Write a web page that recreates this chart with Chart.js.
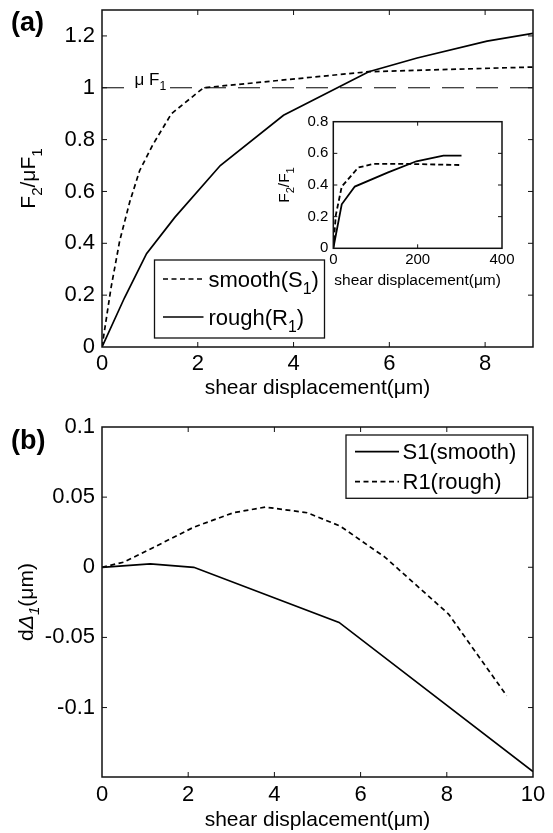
<!DOCTYPE html>
<html><head><meta charset="utf-8">
<script src="https://cdn.jsdelivr.net/npm/chart.js@4/dist/chart.umd.min.js"></script>
<style>
html,body{margin:0;padding:0;background:#fff;width:553px;height:833px;overflow:hidden}
canvas{position:absolute}
</style></head><body>
<canvas id="ca" width="553" height="415" style="left:0;top:0"></canvas>
<canvas id="cin" width="293" height="200" style="left:260px;top:100px"></canvas>
<canvas id="cb" width="553" height="418" style="left:0;top:415px"></canvas>
<script>
// ---------- Panel (a) data ----------
const smoothA_x = [0, 0.19, 0.37, 0.58, 0.785, 1.06, 1.45, 2.12, 5.57, 9];
const smoothA_y = [0, 0.23, 0.41, 0.56, 0.68, 0.78, 0.90, 1.00, 1.062, 1.08];
const roughA_x = [0, 0.47, 0.93, 1.52, 2.47, 3.79, 5.57, 6.58, 8.04, 9];
const roughA_y = [0, 0.19, 0.36, 0.50, 0.70, 0.894, 1.062, 1.115, 1.18, 1.21];
const muF1_x = [0, 9];
const muF1_y = [1, 1];
const xTicksA = [0, 2, 4, 6, 8];
const yTicksA = [0, 0.2, 0.4, 0.6, 0.8, 1, 1.2];
const legendA = ['smooth(S_1)', 'rough(R_1)'];

// ---------- Inset data ----------
const smoothIn_x = [0, 6, 20, 59, 95, 182, 304];
const smoothIn_y = [0, 0.21, 0.39, 0.51, 0.533, 0.533, 0.526];
const roughIn_x = [0, 20, 51, 130, 197, 261, 304];
const roughIn_y = [0, 0.278, 0.39, 0.48, 0.55, 0.585, 0.585];
const xTicksIn = [0, 200, 400];
const yTicksIn = [0, 0.2, 0.4, 0.6, 0.8];

// ---------- Panel (b) data ----------
const s1B_x = [0, 1.12, 2.13, 5.5, 10];
const s1B_y = [0, 0.0024, 0, -0.0393, -0.1457];
const r1B_x = [0, 0.5, 1.16, 2.13, 3.05, 3.79, 4.76, 5.53, 6.57, 8.04, 9.39];
const r1B_y = [0, 0.0036, 0.0136, 0.0286, 0.0389, 0.0429, 0.0389, 0.0293, 0.0071, -0.0333, -0.0916];
const xTicksB = [0, 2, 4, 6, 8, 10];
const yTicksB = [-0.1, -0.05, 0, 0.05, 0.1];
const legendB = ['S1(smooth)', 'R1(rough)'];

const FONT = '"Liberation Sans", Arial, Helvetica, sans-serif';
Chart.defaults.font.family = FONT;
Chart.defaults.color = '#000';

const pts = (xs, ys) => xs.map((x, i) => ({x, y: ys[i]}));
const fmt = v => String(parseFloat(Number(v).toFixed(3)));

function parseRich(str) {
  const out = [];
  const re = /_(\w)/g; let last = 0, m;
  while ((m = re.exec(str))) {
    if (m.index > last) out.push({t: str.slice(last, m.index)});
    out.push({t: m[1], sub: true});
    last = re.lastIndex;
  }
  if (last < str.length) out.push({t: str.slice(last)});
  return out;
}
function segFont(s, size) {
  return (s.it ? 'italic ' : '') + (s.b ? 'bold ' : '') + (s.sub ? size * 0.72 : size) + 'px ' + FONT;
}
function richWidth(ctx, segs, size) {
  let w = 0;
  for (const s of segs) { ctx.font = segFont(s, size); w += ctx.measureText(s.t).width; }
  return w;
}
function drawRich(ctx, segs, x, y, size, align) {
  const w = richWidth(ctx, segs, size);
  let cx = align === 'center' ? x - w / 2 : x;
  ctx.textAlign = 'left'; ctx.textBaseline = 'alphabetic';
  for (const s of segs) {
    ctx.font = segFont(s, size);
    ctx.fillText(s.t, cx, y + (s.sub ? size * 0.33 : 0));
    cx += ctx.measureText(s.t).width;
  }
  return w;
}

const framePlugin = {
  id: 'frame',
  beforeDraw(chart, args, o) {
    if (o && o.fill) {
      const a = chart.chartArea, ctx = chart.ctx;
      ctx.save(); ctx.fillStyle = o.fill; ctx.fillRect(a.left, a.top, a.width, a.height); ctx.restore();
    }
  },
  afterDraw(chart, args, o) {
    const {ctx, chartArea: a, scales: {x, y}} = chart;
    const L = o.tick || 5;
    ctx.save();
    ctx.strokeStyle = '#111'; ctx.lineWidth = 1;
    ctx.beginPath();
    x.ticks.forEach(t => {
      const p = x.getPixelForValue(t.value);
      if (p <= a.left + 1 || p >= a.right - 1) return;
      ctx.moveTo(p, a.bottom); ctx.lineTo(p, a.bottom - L);
      ctx.moveTo(p, a.top); ctx.lineTo(p, a.top + L);
    });
    y.ticks.forEach(t => {
      const p = y.getPixelForValue(t.value);
      if (p <= a.top + 1 || p >= a.bottom - 1) return;
      ctx.moveTo(a.left, p); ctx.lineTo(a.left + L, p);
      ctx.moveTo(a.right, p); ctx.lineTo(a.right - L, p);
    });
    ctx.stroke();
    ctx.lineWidth = o.lw || 1.5;
    ctx.strokeRect(a.left, a.top, a.width, a.height);
    if (o.ytitle) {
      ctx.fillStyle = '#000';
      ctx.save();
      ctx.translate(o.ytitle.bx, (a.top + a.bottom) / 2);
      ctx.rotate(-Math.PI / 2);
      drawRich(ctx, o.ytitle.segs, 0, 0, o.ytitle.size, 'center');
      ctx.restore();
    }
    if (o.tag) {
      ctx.fillStyle = '#000';
      ctx.font = 'bold ' + o.tag.size + 'px ' + FONT;
      ctx.textAlign = 'left'; ctx.textBaseline = 'alphabetic';
      ctx.fillText(o.tag.t, o.tag.x, o.tag.y);
    }
    if (o.legend) {
      const g = o.legend;
      const lx = a.left + g.dx, ly = a.top + g.dy;
      ctx.fillStyle = '#fff'; ctx.fillRect(lx, ly, g.w, g.h);
      ctx.strokeStyle = '#111'; ctx.lineWidth = 1.3;
      ctx.strokeRect(lx, ly, g.w, g.h);
      g.items.forEach((it, i) => {
        const ds = chart.data.datasets[it.ds];
        const yy = ly + g.rows[i];
        ctx.save();
        ctx.strokeStyle = '#000'; ctx.lineWidth = ds.borderWidth;
        ctx.setLineDash(ds.borderDash || []);
        ctx.beginPath(); ctx.moveTo(lx + g.s0, yy); ctx.lineTo(lx + g.s1, yy); ctx.stroke();
        ctx.restore();
        ctx.fillStyle = '#000';
        drawRich(ctx, parseRich(it.label), lx + g.tx, yy + 7.7, g.size, 'left');
      });
    }
    ctx.restore();
  }
};

function xScale(min, max, ticksArr, tickSize, tickPad, height, title, titleSize, titlePadB) {
  return {
    type: 'linear', position: 'bottom', min, max,
    afterBuildTicks: s => { s.ticks = ticksArr.map(v => ({value: v})); },
    afterFit: s => { s.height = height; s.paddingLeft = 0; s.paddingRight = 0; },
    grid: {display: false, drawTicks: false}, border: {display: false},
    ticks: {font: {size: tickSize}, padding: tickPad, maxRotation: 0, autoSkip: false, callback: v => fmt(v), color: '#000'},
    title: {display: true, text: title, font: {size: titleSize}, padding: {top: 0, bottom: titlePadB}, color: '#000'}
  };
}
function yScale(min, max, ticksArr, tickSize, tickPad, width) {
  return {
    type: 'linear', position: 'left', min, max,
    afterBuildTicks: s => { s.ticks = ticksArr.map(v => ({value: v})); },
    afterFit: s => { s.width = width; s.paddingTop = 0; s.paddingBottom = 0; },
    grid: {display: false, drawTicks: false}, border: {display: false},
    ticks: {font: {size: tickSize}, padding: tickPad, autoSkip: false, callback: v => fmt(v), color: '#000'}
  };
}
const lineDs = (label, data, dash, w) => ({
  label, data, borderColor: '#000', backgroundColor: '#000', borderWidth: w,
  borderDash: dash, pointRadius: 0, tension: 0, fill: false
});

// ---------- Chart (a) ----------
const muLabelAt = [0.68, 1.0];
const muPlugin = {
  id: 'muLabel',
  afterDatasetsDraw(chart) {
    const {ctx, scales: {x, y}} = chart;
    const lx = x.getPixelForValue(muLabelAt[0]), ly = y.getPixelForValue(muLabelAt[1]);
    ctx.save();
    ctx.fillStyle = '#fff'; ctx.fillRect(lx - 3, ly - 2, 35, 4);
    ctx.fillStyle = '#000';
    drawRich(ctx, [{t: 'μ F'}, {t: '1', sub: true}], lx, ly - 3, 17, 'left');
    ctx.restore();
  }
};
new Chart(document.getElementById('ca'), {
  type: 'line',
  data: {datasets: [
    lineDs('muF1', pts(muF1_x, muF1_y), [22, 12], 1),
    lineDs('smooth(S1)', pts(smoothA_x, smoothA_y), [5, 3.5], 1.7),
    lineDs('rough(R1)', pts(roughA_x, roughA_y), [], 1.7)
  ]},
  options: {
    responsive: false, animation: false, devicePixelRatio: 1,
    layout: {padding: {left: 0, top: 10, right: 20, bottom: 0}},
    scales: {
      x: xScale(0, 9, xTicksA, 22, 3.5, 68, 'shear displacement(μm)', 21, 14),
      y: yScale(0, 1.3, yTicksA, 22, 7, 102)
    },
    plugins: {
      legend: {display: false}, tooltip: {enabled: false},
      frame: {
        tick: 5, lw: 1.5,
        ytitle: {bx: 35, size: 21, segs: [{t: 'F'}, {t: '2', sub: true}, {t: '/μF'}, {t: '1', sub: true}]},
        tag: {t: '(a)', x: 11, y: 31, size: 27},
        legend: {dx: 52.5, dy: 250, w: 170, h: 78, rows: [19, 57], s0: 8.5, s1: 49, tx: 54, size: 22,
          items: [{ds: 1, label: legendA[0]}, {ds: 2, label: legendA[1]}]}
      }
    }
  },
  plugins: [framePlugin, muPlugin]
});

// ---------- Inset ----------
new Chart(document.getElementById('cin'), {
  type: 'line',
  data: {datasets: [
    lineDs('smooth', pts(smoothIn_x, smoothIn_y), [5, 3], 1.8),
    lineDs('rough', pts(roughIn_x, roughIn_y), [], 1.8)
  ]},
  options: {
    responsive: false, animation: false, devicePixelRatio: 1,
    layout: {padding: {left: 0, top: 21.7, right: 51, bottom: 0}},
    scales: {
      x: xScale(0, 400, xTicksIn, 15, 3, 51.7, 'shear displacement(μm)', 15.5, 10),
      y: yScale(0, 0.8, yTicksIn, 15, 5, 73.3)
    },
    plugins: {
      legend: {display: false}, tooltip: {enabled: false},
      frame: {
        fill: '#fff', tick: 4, lw: 1.5,
        ytitle: {bx: 29, size: 15.5, segs: [{t: 'F'}, {t: '2', sub: true}, {t: '/F'}, {t: '1', sub: true}]}
      }
    }
  },
  plugins: [framePlugin]
});

// ---------- Chart (b) ----------
new Chart(document.getElementById('cb'), {
  type: 'line',
  data: {datasets: [
    lineDs('S1(smooth)', pts(s1B_x, s1B_y), [], 1.7),
    lineDs('R1(rough)', pts(r1B_x, r1B_y), [5, 3.5], 1.7)
  ]},
  options: {
    responsive: false, animation: false, devicePixelRatio: 1,
    layout: {padding: {left: 0, top: 12, right: 20, bottom: 0}},
    scales: {
      x: xScale(0, 10, xTicksB, 22, 5, 56, 'shear displacement(μm)', 21, 0),
      y: yScale(-0.1495, 0.1, yTicksB, 22, 7, 102)
    },
    plugins: {
      legend: {display: false}, tooltip: {enabled: false},
      frame: {
        tick: 5, lw: 1.5,
        ytitle: {bx: 32.5, size: 21, segs: [{t: 'd'}, {t: 'Δ', it: true}, {t: '1', sub: true, it: true}, {t: '(μm)'}]},
        tag: {t: '(b)', x: 11, y: 34, size: 27},
        legend: {dx: 244, dy: 8, w: 181.6, h: 63.3, rows: [16.7, 46.7], s0: 9, s1: 53, tx: 56.5, size: 22,
          items: [{ds: 0, label: legendB[0]}, {ds: 1, label: legendB[1]}]}
      }
    }
  },
  plugins: [framePlugin]
});
</script>
</body></html>
